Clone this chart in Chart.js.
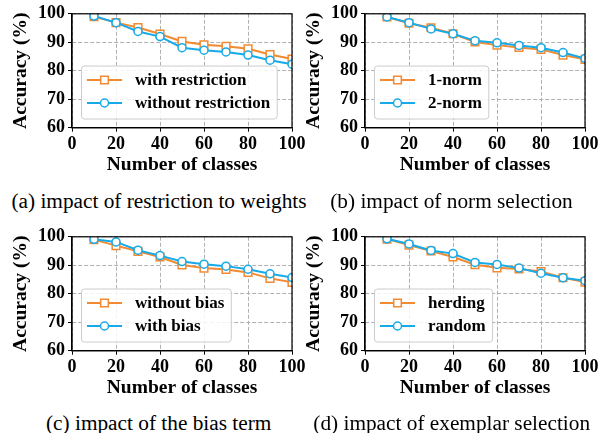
<!DOCTYPE html>
<html>
<head>
<meta charset="utf-8">
<script src="https://cdn.jsdelivr.net/npm/chart.js@4.4.0/dist/chart.umd.min.js"></script>
<style>
  html, body { margin:0; padding:0; background:#fff; }
  #wrap { position:relative; width:606px; height:433px; overflow:hidden; background:#fff; }
  canvas { position:absolute; }
  .cap { position:absolute; font-family:"Liberation Serif","Times New Roman",serif; font-size:21.3px; color:#000; white-space:nowrap; transform:translate(-50%,-50%); }
</style>
</head>
<body>
<div id="wrap">
  <canvas id="ca" width="310" height="185" style="left:0px;top:0px"></canvas>
  <canvas id="cb" width="310" height="185" style="left:293px;top:0px"></canvas>
  <canvas id="cc" width="310" height="185" style="left:0px;top:223px"></canvas>
  <canvas id="cd" width="310" height="185" style="left:293px;top:223px"></canvas>
  <div class="cap" style="left:159px;top:201px">(a) impact of restriction to weights</div>
  <div class="cap" style="left:451.5px;top:201px">(b) impact of norm selection</div>
  <div class="cap" style="left:158.7px;top:422.5px">(c) impact of the bias term</div>
  <div class="cap" style="left:451.7px;top:422.5px">(d) impact of exemplar selection</div>
</div>
<script>
// ---- data ----
const classes = [10, 20, 30, 40, 50, 60, 70, 80, 90, 100];
const xTicks = [0, 20, 40, 60, 80, 100];
const yTicks = [60, 70, 80, 90, 100];

const aLabels = ['with restriction', 'without restriction'];
const aWith    = [99.0, 96.9, 95.2, 92.9, 90.3, 89.1, 88.6, 87.7, 85.7, 84.1];
const aWithout = [99.2, 96.9, 93.8, 92.0, 88.1, 87.2, 86.6, 85.5, 83.7, 82.3];

const bLabels = ['1-norm', '2-norm'];
const bNorm1 = [98.9, 96.7, 95.1, 93.0, 90.1, 89.0, 88.2, 87.5, 85.5, 84.0];
const bNorm2 = [98.9, 96.9, 94.7, 93.0, 90.5, 89.8, 88.9, 88.1, 86.4, 84.3];

const cLabels = ['without bias', 'with bias'];
const cWithout = [99.0, 96.9, 94.9, 92.9, 90.1, 89.0, 88.5, 87.5, 85.4, 84.0];
const cWith    = [99.1, 98.2, 95.3, 93.4, 91.3, 90.4, 89.7, 88.6, 87.0, 85.7];

const dLabels = ['herding', 'random'];
const dHerding = [99.2, 97.1, 95.0, 92.9, 90.2, 89.1, 88.7, 87.8, 85.6, 84.1];
const dRandom  = [99.3, 97.5, 95.2, 94.1, 91.0, 90.3, 89.0, 87.2, 85.6, 84.6];

const xTitle = 'Number of classes';
const yTitle = 'Accuracy (%)';

// ---- styling ----
const ORANGE = '#F28A32';
const BLUE = '#17AAE8';
const SERIF = '"Liberation Serif","Times New Roman",serif';

const framePlugin = {
  id: 'frame',
  afterDatasetsDraw(chart) {
    const a = chart.chartArea, ctx = chart.ctx;
    ctx.save();
    ctx.strokeStyle = '#000';
    ctx.lineWidth = 1.2;
    ctx.strokeRect(a.left, a.top, a.right - a.left, a.bottom - a.top);
    ctx.restore();
  }
};

function drawMarker(ctx, style, x, y, r) {
  ctx.beginPath();
  if (style === 'rect') {
    const s = r * Math.SQRT1_2;
    ctx.rect(x - s, y - s, 2 * s, 2 * s);
  } else {
    ctx.arc(x, y, r, 0, Math.PI * 2);
  }
  ctx.fill();
  ctx.stroke();
}

const legendPlugin = {
  id: 'boxLegend',
  afterDraw(chart) {
    const ctx = chart.ctx, a = chart.chartArea;
    const ds = chart.data.datasets;
    ctx.save();
    ctx.font = 'bold 17px ' + SERIF;
    const tw = Math.max(...ds.map(d => ctx.measureText(d.label).width));
    const w = 53.5 + tw + 7, h = 53;
    const x = a.left + 9.5, y = a.bottom - 8.7 - h;
    const r = 3;
    ctx.beginPath();
    ctx.moveTo(x + r, y);
    ctx.lineTo(x + w - r, y);
    ctx.quadraticCurveTo(x + w, y, x + w, y + r);
    ctx.lineTo(x + w, y + h - r);
    ctx.quadraticCurveTo(x + w, y + h, x + w - r, y + h);
    ctx.lineTo(x + r, y + h);
    ctx.quadraticCurveTo(x, y + h, x, y + h - r);
    ctx.lineTo(x, y + r);
    ctx.quadraticCurveTo(x, y, x + r, y);
    ctx.closePath();
    ctx.fillStyle = 'rgba(255,255,255,0.85)';
    ctx.fill();
    ctx.strokeStyle = '#cccccc';
    ctx.lineWidth = 1;
    ctx.stroke();
    ds.forEach((d, i) => {
      const cy = y + 14 + i * 23;
      ctx.strokeStyle = d.borderColor;
      ctx.lineWidth = d.borderWidth;
      ctx.beginPath();
      ctx.moveTo(x + 5.5, cy);
      ctx.lineTo(x + 40.5, cy);
      ctx.stroke();
      ctx.fillStyle = '#fff';
      ctx.lineWidth = d.pointBorderWidth;
      drawMarker(ctx, d.pointStyle, x + 23, cy, d.pointRadius);
      ctx.fillStyle = '#000';
      ctx.textBaseline = 'middle';
      ctx.textAlign = 'left';
      ctx.fillText(d.label, x + 53.5, cy + 1);
    });
    ctx.restore();
  }
};

function series(label, values, color, style, order) {
  return {
    label: label,
    data: classes.map((c, i) => ({ x: c, y: values[i] })),
    borderColor: color,
    backgroundColor: color,
    borderWidth: 2,
    pointStyle: style,
    pointRadius: style === 'rect' ? 5.4 : 4,
    pointBorderWidth: 1.5,
    pointBackgroundColor: '#fff',
    pointBorderColor: color,
    tension: 0,
    clip: 0,
    order: order
  };
}

function makeChart(id, labels, s1, s2) {
  new Chart(document.getElementById(id), {
    type: 'line',
    data: {
      datasets: [
        series(labels[0], s1, ORANGE, 'rect', 2),
        series(labels[1], s2, BLUE, 'circle', 1)
      ]
    },
    options: {
      responsive: false,
      animation: false,
      devicePixelRatio: 1,
      layout: { padding: { top: 11, right: 18, left: 0, bottom: 0 } },
      plugins: { legend: { display: false }, tooltip: { enabled: false } },
      scales: {
        x: {
          type: 'linear',
          min: 0, max: 100,
          afterBuildTicks: s => { s.ticks = xTicks.map(v => ({ value: v })); },
          afterFit: s => { s.height = 57.3; },
          grid: { color: '#b0b0b0', lineWidth: 1, drawTicks: true, tickLength: 4, tickColor: '#000', tickWidth: 1 },
          border: { display: true, color: '#000', width: 1.2, dash: [4, 2] },
          ticks: { color: '#000', padding: 2, maxRotation: 0, font: { family: SERIF, size: 18, weight: 'bold' } },
          title: { display: true, text: xTitle, color: '#000', padding: { top: 0, bottom: 8.6 }, font: { family: SERIF, size: 19.5, weight: 'bold' } }
        },
        y: {
          type: 'linear',
          min: 60, max: 100,
          afterBuildTicks: s => { s.ticks = yTicks.map(v => ({ value: v })); },
          afterFit: s => { s.width = 72; },
          grid: { color: '#b0b0b0', lineWidth: 1, drawTicks: true, tickLength: 4, tickColor: '#000', tickWidth: 1 },
          border: { display: true, color: '#000', width: 1.2, dash: [4, 2] },
          ticks: { color: '#000', padding: 3, font: { family: SERIF, size: 18, weight: 'bold' } },
          title: { display: true, text: yTitle, color: '#000', padding: { top: 9, bottom: 0 }, font: { family: SERIF, size: 19.5, weight: 'bold' } }
        }
      }
    },
    plugins: [framePlugin, legendPlugin]
  });
}

makeChart('ca', aLabels, aWith, aWithout);
makeChart('cb', bLabels, bNorm1, bNorm2);
makeChart('cc', cLabels, cWithout, cWith);
makeChart('cd', dLabels, dHerding, dRandom);
</script>
</body>
</html>
